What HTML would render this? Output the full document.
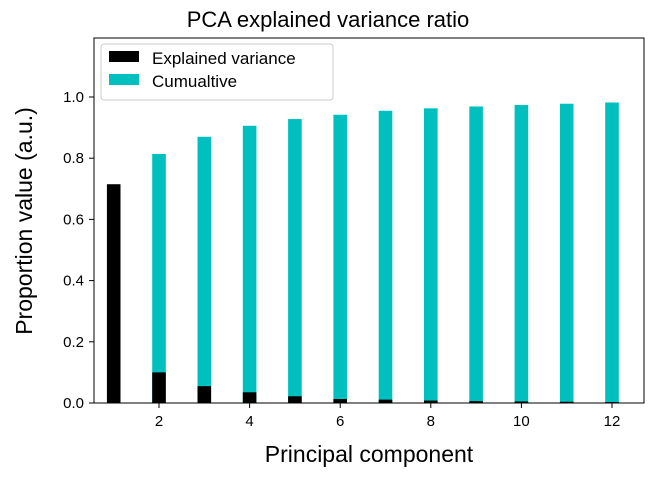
<!DOCTYPE html>
<html><head><meta charset="utf-8"><style>
body{margin:0;background:#fff}
svg text{font-family:"Liberation Sans","DejaVu Sans",sans-serif;fill:#000}
</style></head><body>
<svg width="656" height="474" xmlns="http://www.w3.org/2000/svg">
<g id="bars"></g>
<rect x="94" y="38" width="550" height="365" fill="none" stroke="#000" stroke-width="1"/>
<g id="axes"></g>
<text x="328" y="27" font-size="22" text-anchor="middle">PCA explained variance ratio</text>
<text x="369" y="462" font-size="23" text-anchor="middle">Principal component</text>
<text transform="translate(32,221) rotate(-90)" font-size="23" text-anchor="middle">Proportion value (a.u.)</text>
<g>
<rect x="101" y="44" width="232" height="56" rx="3" fill="#fff" stroke="#ccc"/>
<rect x="109" y="51" width="30" height="11" fill="#000"/>
<text x="152" y="64" font-size="17">Explained variance</text>
<rect x="109" y="74" width="30" height="11" fill="#00bfbf"/>
<text x="152" y="87" font-size="17">Cumualtive</text>
</g>
</svg>
<script>
const components=[1,2,3,4,5,6,7,8,9,10,11,12];
const explained=[0.715,0.100,0.055,0.035,0.022,0.013,0.011,0.008,0.006,0.005,0.004,0.003];
const cumulative=[null,0.814,0.870,0.906,0.928,0.942,0.955,0.963,0.969,0.974,0.978,0.982];
const xTicks=[2,4,6,8,10,12];
const yTicks=[0,0.2,0.4,0.6,0.8,1.0];
const NS="http://www.w3.org/2000/svg";
const xs=v=>94+(v-0.565)*45.3;
const ys=v=>403-v*306;
const bw=0.3*45.3;
const bars=document.getElementById('bars');
const axes=document.getElementById('axes');
function mk(t,a,p){const e=document.createElementNS(NS,t);for(const k in a)e.setAttribute(k,a[k]);p.appendChild(e);return e;}
components.forEach((c,i)=>{
 if(cumulative[i]!=null){
  const r=mk('rect',{x:xs(c)-bw/2,y:ys(cumulative[i]),width:bw,height:ys(0)-ys(cumulative[i]),fill:'#00bfbf'},bars);
  
  
 }
 const b=mk('rect',{x:xs(c)-bw/2,y:ys(explained[i]),width:bw,height:ys(0)-ys(explained[i]),fill:'#000'},bars);
 
 
});
xTicks.forEach(t=>{
 mk('line',{x1:xs(t),x2:xs(t),y1:403,y2:408,stroke:'#000'},axes);
 const tx=mk('text',{x:xs(t),y:426,'font-size':15,'text-anchor':'middle'},axes);
 tx.textContent=t;
 
 
});
yTicks.forEach(t=>{
 mk('line',{x1:89,x2:94,y1:ys(t),y2:ys(t),stroke:'#000'},axes);
 const tx=mk('text',{x:84,y:ys(t)+5,'font-size':15,'text-anchor':'end'},axes);
 tx.textContent=t.toFixed(1);
 
 
});
</script>
</body></html>
